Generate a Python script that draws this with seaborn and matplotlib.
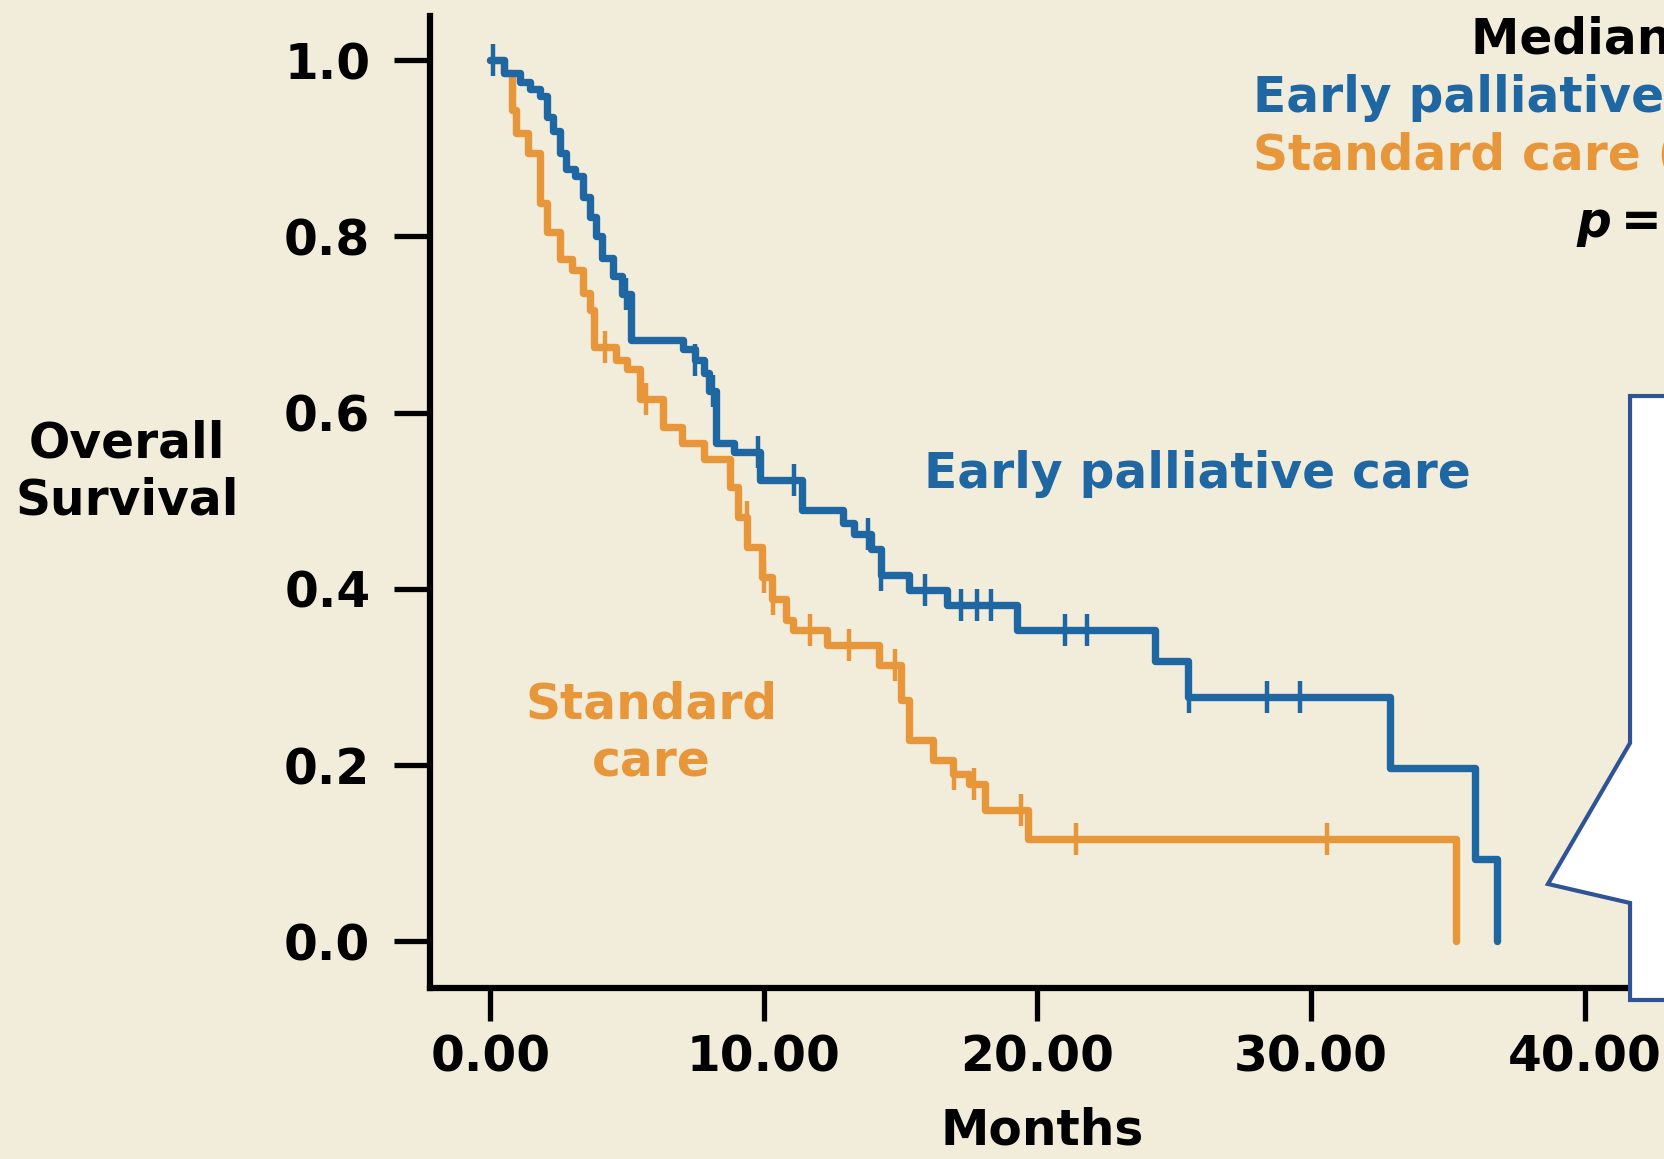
import numpy as np
import pandas as pd
import seaborn as sns
import matplotlib.pyplot as plt
from matplotlib.patches import Polygon

# Kaplan-Meier steps: time (months) and survival after each drop
early_t = [0, 0.5, 1.1, 1.45, 1.8, 2.06, 2.3, 2.54, 2.78, 3.1, 3.4, 3.63, 3.88, 4.1, 4.5,
           4.8, 5.15, 7.05, 7.5, 7.8, 8.0, 8.25, 8.9, 9.85, 11.4, 12.9, 13.3, 13.9, 14.3,
           15.3, 16.7, 19.25, 24.3, 25.5, 32.9, 36.0, 36.8]
early_s = [1.0, 0.986, 0.975, 0.967, 0.959, 0.936, 0.92, 0.895, 0.876, 0.868, 0.845, 0.822,
           0.8, 0.775, 0.755, 0.735, 0.683, 0.672, 0.66, 0.645, 0.625, 0.566, 0.555, 0.524,
           0.49, 0.475, 0.462, 0.445, 0.416, 0.399, 0.382, 0.353, 0.318, 0.277, 0.197,
           0.094, 0.0]
early_cens = [0.1, 4.95, 7.5, 8.15, 9.8, 11.1, 13.8, 14.3, 15.9, 17.2, 17.8, 18.3,
              21.0, 21.8, 25.55, 28.4, 29.6]

std_t = [0, 0.5, 0.78, 0.95, 1.37, 1.8, 2.06, 2.54, 3.0, 3.4, 3.63, 3.8, 4.6, 5.0, 5.46,
         6.3, 7.0, 7.8, 8.75, 9.05, 9.4, 9.92, 10.3, 10.8, 11.07, 12.3, 14.2, 15.0, 15.3,
         16.2, 16.9, 17.5, 18.1, 19.65, 35.3]
std_s = [1.0, 0.986, 0.944, 0.917, 0.895, 0.838, 0.805, 0.774, 0.762, 0.736, 0.717, 0.675,
         0.66, 0.649, 0.615, 0.584, 0.566, 0.547, 0.516, 0.482, 0.448, 0.414, 0.388, 0.365,
         0.353, 0.336, 0.314, 0.274, 0.228, 0.206, 0.19, 0.179, 0.149, 0.116, 0.0]
std_cens = [4.2, 5.7, 9.37, 10.0, 10.35, 11.7, 13.1, 14.8, 16.95, 17.7, 19.4, 21.4, 30.6]

xticks = [0, 10, 20, 30, 40]
xtick_labels = ['0.00', '10.00', '20.00', '30.00', '40.00']
yticks = [0.0, 0.2, 0.4, 0.6, 0.8, 1.0]

blue = '#1e67a3'
orange = '#e8963a'
bg = '#f2ecdb'

sns.set_theme(style='ticks')
plt.rcParams['font.family'] = ['DejaVu Sans']
plt.rcParams['font.weight'] = 'bold'
plt.rcParams['axes.labelweight'] = 'bold'

fig = plt.figure(figsize=(16.65, 11.59), dpi=100, facecolor=bg)
ax = fig.add_axes([0.2583, 0.1475, 0.7417, 0.8386])
ax.set_facecolor(bg)


def censor_y(t, s, c):
    idx = np.searchsorted(t, c, side='right') - 1
    return np.array(s)[idx]


for t, s, c, col in [(std_t, std_s, std_cens, orange), (early_t, early_s, early_cens, blue)]:
    df = pd.DataFrame({'t': t, 's': s})
    sns.lineplot(data=df, x='t', y='s', ax=ax, color=col, lw=5.3,
                 drawstyle='steps-post', estimator=None, sort=False)
    cdf = pd.DataFrame({'t': c, 's': censor_y(t, s, c)})
    sns.scatterplot(data=cdf, x='t', y='s', ax=ax, color=col, marker='|',
                    s=560, linewidth=3.2, zorder=3)

ax.set_xlim(-2.2, 42.94)
ax.set_ylim(-0.053, 1.05)
sns.despine(ax=ax)
for sp in ['left', 'bottom']:
    ax.spines[sp].set_linewidth(4.5)
    ax.spines[sp].set_color('black')

ax.set_xticks(xticks)
ax.set_xticklabels(xtick_labels)
ax.set_yticks(yticks)
ax.set_yticklabels([f'{v:.1f}' for v in yticks])
ax.tick_params(axis='both', colors='black', labelsize=35, width=3.8, direction='out')
ax.tick_params(axis='y', length=26, pad=17)
ax.tick_params(axis='x', length=24, pad=9)

ax.set_xlabel('Months', fontsize=35, fontweight='bold', color='black', va='center')
ax.xaxis.set_label_coords(0.496, -0.147)
ax.set_ylabel('Overall\nSurvival', fontsize=35, fontweight='bold', color='black',
              rotation=0, ha='center', va='center', linespacing=1.25)
ax.yaxis.set_label_coords(-0.2453, 0.531)

ax.text(15.85, 0.53, 'Early palliative care', color=blue, fontsize=35,
        fontweight='bold', ha='left', va='center')
ax.text(5.9, 0.236, 'Standard\ncare', color=orange, fontsize=35, fontweight='bold',
        ha='center', va='center', linespacing=1.25)

# summary block at top right (runs off the picture edge, as in the original)
fig.text(0.8835, 0.9655, 'Median OS', color='black', fontsize=35, fontweight='bold',
         ha='left', va='center')
fig.text(0.7526, 0.9154, 'Early palliative care (11.6 months)', color=blue, fontsize=35,
         fontweight='bold', ha='left', va='center')
fig.text(0.7526, 0.8654, 'Standard care (8.9 months)', color=orange, fontsize=35,
         fontweight='bold', ha='left', va='center')
fig.text(0.9471, 0.8076, 'p', color='black', fontsize=35, fontweight='bold',
         style='italic', ha='left', va='center')
fig.text(0.9735, 0.8076, '= 0.02', color='black', fontsize=35, fontweight='bold',
         ha='left', va='center')

# white speech bubble on the right
bubble = Polygon([(0.979, 0.6583), (1.03, 0.6583), (1.03, 0.1372), (0.979, 0.1372),
                  (0.979, 0.2209), (0.9297, 0.2373), (0.979, 0.3589)],
                 closed=True, facecolor='white', edgecolor='#2f5496', lw=3,
                 transform=fig.transFigure, zorder=10, clip_on=False)
fig.add_artist(bubble)

fig.savefig('out.png', dpi=100, facecolor=bg)
